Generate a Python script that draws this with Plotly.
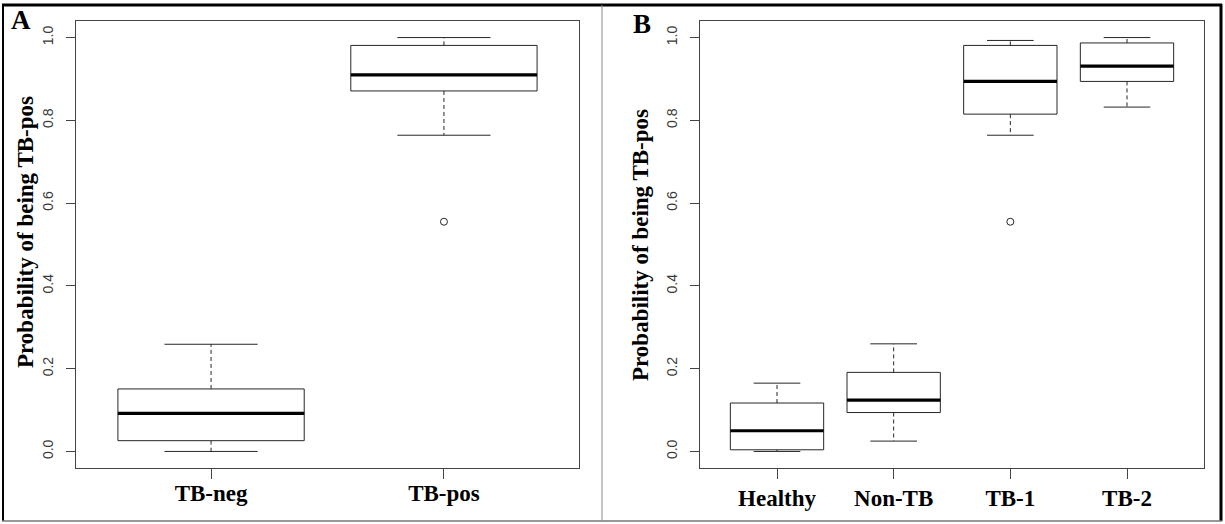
import plotly.graph_objects as go

# ---------------- data ----------------
A_labels = ["TB-neg", "TB-pos"]
A_lo  = [0.000, 0.764]
A_q1  = [0.026, 0.871]
A_med = [0.092, 0.910]
A_q3  = [0.151, 0.981]
A_hi  = [0.259, 1.000]
A_out = [[], [0.555]]

B_labels = ["Healthy", "Non-TB", "TB-1", "TB-2"]
B_lo  = [0.000, 0.025, 0.764, 0.832]
B_q1  = [0.004, 0.094, 0.815, 0.894]
B_med = [0.050, 0.124, 0.894, 0.931]
B_q3  = [0.117, 0.191, 0.981, 0.987]
B_hi  = [0.165, 0.260, 0.993, 1.000]
B_out = [[], [], [0.555], []]

y_ticks = [0.0, 0.2, 0.4, 0.6, 0.8, 1.0]
y_title = "Probability of being TB-pos"

W, H = 1225, 524
LINE = "#262626"

fig = go.Figure()


def add_boxes(xa, ya, lo, q1, med, q3, hi, out):
    bx, by, mx, my, wx, wy, cx, cy, ox, oy = ([] for _ in range(10))
    for i in range(len(med)):
        x = i + 1
        bx += [x - 0.4, x + 0.4, x + 0.4, x - 0.4, x - 0.4, None]
        by += [q1[i], q1[i], q3[i], q3[i], q1[i], None]
        mx += [x - 0.4, x + 0.4, None]
        my += [med[i], med[i], None]
        wx += [x, x, None, x, x, None]
        wy += [q3[i], hi[i], None, q1[i], lo[i], None]
        cx += [x - 0.2, x + 0.2, None, x - 0.2, x + 0.2, None]
        cy += [hi[i], hi[i], None, lo[i], lo[i], None]
        for v in out[i]:
            ox.append(x)
            oy.append(v)
    common = dict(xaxis=xa, yaxis=ya, mode="lines", hoverinfo="skip", showlegend=False)
    fig.add_trace(go.Scatter(x=wx, y=wy, line=dict(color=LINE, width=1, dash="4px,3px"), **common))
    fig.add_trace(go.Scatter(x=cx, y=cy, line=dict(color=LINE, width=1), **common))
    fig.add_trace(go.Scatter(x=bx, y=by, line=dict(color=LINE, width=1), **common))
    fig.add_trace(go.Scatter(x=mx, y=my, line=dict(color="black", width=3.2), **common))
    fig.add_trace(go.Scatter(x=ox, y=oy, xaxis=xa, yaxis=ya, mode="markers", showlegend=False,
                             marker=dict(symbol="circle-open", size=7, color=LINE,
                                         line=dict(width=1, color=LINE))))


add_boxes("x", "y", A_lo, A_q1, A_med, A_q3, A_hi, A_out)
add_boxes("x2", "y2", B_lo, B_q1, B_med, B_q3, B_hi, B_out)

ydom = [(H - 468) / H, (H - 21) / H]
axis_common = dict(showline=True, mirror=True, linecolor="#444", linewidth=1,
                   ticks="outside", tickcolor="#444", showgrid=False, zeroline=False)
yax = dict(axis_common, range=[-0.04, 1.04], tickvals=y_ticks,
           ticktext=[f"{v:.1f}" for v in y_ticks], tickangle=-90, ticklen=9,
           tickfont=dict(family="Liberation Sans", size=14, color="#3a3a3a"),
           ticklabelstandoff=7, domain=ydom)
xfont = dict(family="Liberation Serif", size=23, color="black", weight="bold")

fig.update_layout(
    width=W, height=H, margin=dict(l=0, r=0, t=0, b=0),
    paper_bgcolor="white", plot_bgcolor="white",
    xaxis=dict(axis_common, domain=[76 / W, 579 / W], range=[0.42, 2.58],
               tickvals=[1, 2], ticktext=A_labels, ticklen=10, tickfont=xfont,
               ticklabelstandoff=-6),
    yaxis=dict(yax, anchor="x"),
    xaxis2=dict(axis_common, domain=[700 / W, 1204 / W], range=[0.34, 4.66],
                tickvals=[1, 2, 3, 4], ticktext=B_labels, ticklen=10, tickfont=xfont,
                ticklabelstandoff=-1, anchor="y2"),
    yaxis2=dict(yax, anchor="x2"),
)

title_font = dict(family="Liberation Serif", size=23, color="black", weight="bold")
panel_font = dict(family="Liberation Serif", size=27, color="black", weight="bold")
fig.add_annotation(x=25 / W, y=1 - 232 / H, xref="paper", yref="paper", text=y_title,
                   textangle=-90, showarrow=False, font=title_font,
                   xanchor="center", yanchor="middle")
fig.add_annotation(x=640 / W, y=1 - 245 / H, xref="paper", yref="paper", text=y_title,
                   textangle=-90, showarrow=False, font=title_font,
                   xanchor="center", yanchor="middle")
fig.add_annotation(x=21 / W, y=1 - 20 / H, xref="paper", yref="paper", text="A",
                   showarrow=False, font=panel_font, xanchor="center", yanchor="middle")
fig.add_annotation(x=642 / W, y=1 - 24 / H, xref="paper", yref="paper", text="B",
                   showarrow=False, font=panel_font, xanchor="center", yanchor="middle")

# outer frame of the composite image
def px_line(x0, y0, x1, y1, color, width):
    fig.add_shape(type="line", xref="paper", yref="paper",
                  x0=x0 / W, y0=1 - y0 / H, x1=x1 / W, y1=1 - y1 / H,
                  line=dict(color=color, width=width), layer="above")

px_line(2, 5, 1222, 5, "black", 3)
px_line(3, 4, 3, 521, "black", 2)
px_line(1221, 4, 1221, 521, "black", 3)
px_line(2, 521, 1222, 521, "#777", 1.5)
px_line(602, 5, 602, 521, "#888", 1)

fig.write_html("out.html")
